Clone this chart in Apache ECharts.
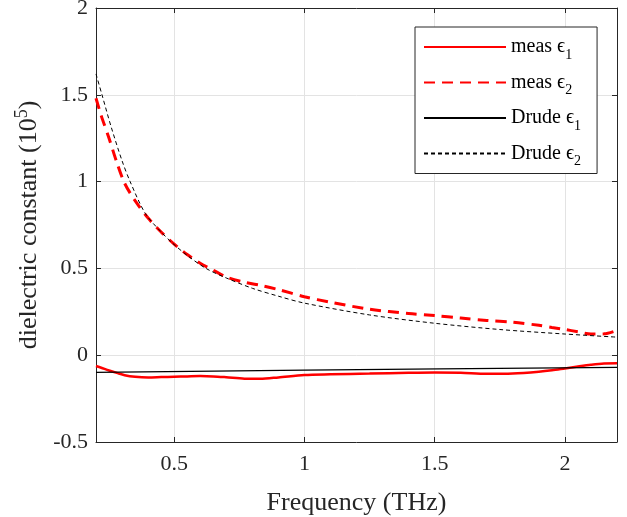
<!DOCTYPE html>
<html>
<head>
<meta charset="utf-8">
<script src="https://cdn.jsdelivr.net/npm/echarts@6/dist/echarts.min.js"></script>
<style>
html,body{margin:0;padding:0;background:#fff;}
#chart{width:627px;height:517px;}
</style>
</head>
<body>
<div id="chart"></div>
<script>
// ---- data ----
const xTicks = [0.5, 1, 1.5, 2];
const measFreq = [0.2,0.22,0.25,0.28,0.31,0.35,0.4,0.45,0.5,0.55,0.6,0.65,0.7,0.77,0.83,0.9,1.0,1.1,1.25,1.4,1.5,1.6,1.7,1.8,1.9,1.95,2.0,2.05,2.1,2.15,2.2];
const measEps1 = [-0.062,-0.072,-0.088,-0.102,-0.115,-0.124,-0.128,-0.126,-0.124,-0.122,-0.12,-0.122,-0.127,-0.135,-0.136,-0.128,-0.114,-0.11,-0.106,-0.101,-0.099,-0.101,-0.107,-0.105,-0.095,-0.087,-0.076,-0.065,-0.055,-0.048,-0.047];
const measEps2 = [1.48,1.38,1.25,1.11,0.99,0.89,0.79,0.71,0.64,0.58,0.53,0.49,0.45,0.42,0.403,0.378,0.337,0.305,0.265,0.24,0.228,0.214,0.2,0.19,0.172,0.16,0.148,0.135,0.122,0.123,0.143];
const drudeFreq = [0.2,0.223,0.258,0.3,0.331,0.389,0.45,0.494,0.55,0.622,0.7,0.801,0.9,1.0,1.25,1.5,1.75,2.0,2.2];
const drudeEps2 = [1.62,1.5,1.316,1.12,1.0,0.817,0.71,0.645,0.575,0.5,0.445,0.385,0.34,0.3,0.232,0.184,0.148,0.122,0.104];
const drudeEps1Freq = [0.2, 1.0, 2.2];
const drudeEps1 = [-0.099, -0.086, -0.07];

const pairs = (xs, ys) => xs.map((x, i) => [x, ys[i]]);

const serif = "'Liberation Serif', 'DejaVu Serif', serif";
const axisColor = '#262626';
const gridColor = '#e3e3e3';

const chart = echarts.init(document.getElementById('chart'), null, {renderer: 'canvas'});
chart.setOption({
  backgroundColor: '#fff',
  animation: false,
  grid: {left: 96, right: 10, top: 8, bottom: 75, containLabel: false, outerBoundsMode: 'none'},
  legend: {
    orient: 'vertical',
    left: 415, top: 27,
    padding: [5, 16, 5, 8],
    itemWidth: 82, itemHeight: 12, itemGap: 5.5,
    backgroundColor: '#fff',
    borderColor: axisColor, borderWidth: 1,
    itemStyle: {opacity: 0, borderWidth: 0},
    textStyle: {
      fontFamily: serif, fontSize: 20, color: '#000', lineHeight: 30,
      rich: {
        sub: {fontFamily: serif, fontSize: 14, color: '#000', padding: [16, 0, 0, 0]}
      }
    },
    formatter: function (name) {
      const m = name.match(/^(.*)_(\d)$/);
      return m ? m[1] + '{sub|' + m[2] + '}' : name;
    },
    data: ['meas ϵ_1', 'meas ϵ_2', 'Drude ϵ_1', 'Drude ϵ_2']
  },
  xAxis: [{
    type: 'value', min: 0.2, max: 2.2,
    name: 'Frequency (THz)', nameLocation: 'middle', nameGap: 48,
    nameTextStyle: {fontFamily: serif, fontSize: 26, color: '#262626'},
    axisLine: {show: true, onZero: false, lineStyle: {color: axisColor, width: 1}},
    axisTick: {show: true, inside: true, length: 5, customValues: xTicks, lineStyle: {color: axisColor}},
    axisLabel: {customValues: xTicks, fontFamily: serif, fontSize: 22, color: '#262626', margin: 11},
    splitLine: {show: true, lineStyle: {color: gridColor, width: 1}}
  }, {
    type: 'value', min: 0.2, max: 2.2, position: 'top',
    axisLine: {show: true, onZero: false, lineStyle: {color: axisColor, width: 1}},
    axisTick: {show: true, inside: true, length: 5, customValues: xTicks, lineStyle: {color: axisColor}},
    axisLabel: {show: false},
    splitLine: {show: false}
  }],
  yAxis: [{
    type: 'value', min: -0.5, max: 2, interval: 0.5,
    name: 'dielectric constant (10{sup|5})', nameLocation: 'middle', nameGap: 47, nameRotate: 90,
    nameTextStyle: {fontFamily: serif, fontSize: 26, color: '#262626',
      rich: {sup: {fontFamily: serif, fontSize: 18, color: '#262626', padding: [0, 0, 14, 0]}}},
    axisLine: {show: true, onZero: false, lineStyle: {color: axisColor, width: 1}},
    axisTick: {show: true, inside: true, length: 5, lineStyle: {color: axisColor}},
    axisLabel: {fontFamily: serif, fontSize: 22, color: '#262626', margin: 8},
    splitLine: {show: true, lineStyle: {color: gridColor, width: 1}}
  }, {
    type: 'value', min: -0.5, max: 2, interval: 0.5, position: 'right',
    axisLine: {show: true, onZero: false, lineStyle: {color: axisColor, width: 1}},
    axisTick: {show: true, inside: true, length: 5, lineStyle: {color: axisColor}},
    axisLabel: {show: false},
    splitLine: {show: false}
  }],
  series: [{
    name: 'meas ϵ_1', type: 'line', data: pairs(measFreq, measEps1),
    showSymbol: false, symbol: 'none', smooth: 0.3,
    lineStyle: {color: '#ff0000', width: 2.5, type: 'solid'}, itemStyle: {color: '#ff0000'}
  }, {
    name: 'meas ϵ_2', type: 'line', data: pairs(measFreq, measEps2),
    showSymbol: false, symbol: 'none', smooth: 0.3,
    lineStyle: {color: '#ff0000', width: 3, type: [11, 7]}, itemStyle: {color: '#ff0000'}
  }, {
    name: 'Drude ϵ_1', type: 'line', data: pairs(drudeEps1Freq, drudeEps1),
    showSymbol: false, symbol: 'none', smooth: 0.3,
    lineStyle: {color: '#000', width: 1.2, type: 'solid'}, itemStyle: {color: '#000'}
  }, {
    name: 'Drude ϵ_2', type: 'line', data: pairs(drudeFreq, drudeEps2),
    showSymbol: false, symbol: 'none', smooth: 0.3,
    lineStyle: {color: '#000', width: 1, type: [4, 3]}, itemStyle: {color: '#000'}
  }]
});
</script>
</body>
</html>
